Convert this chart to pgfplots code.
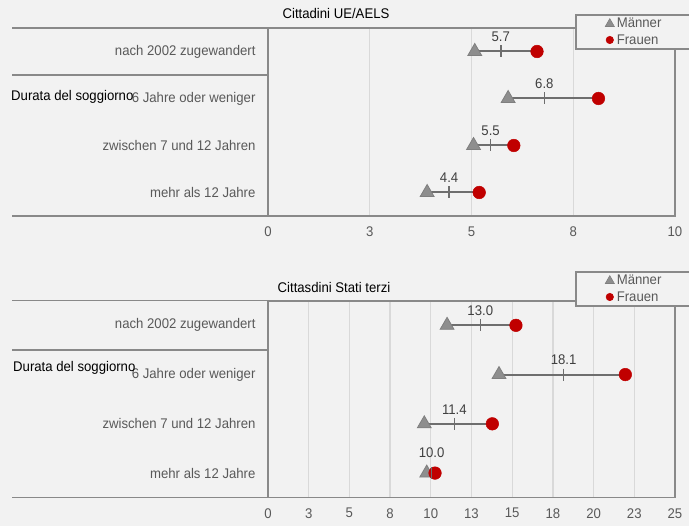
\documentclass[border=0pt]{standalone}
\usepackage{fontspec}
\setmainfont{Liberation Sans}[FakeStretch=0.94]
\usepackage{pgfplots}
\pgfplotsset{compat=1.18}
\definecolor{bg}{HTML}{F2F2F2}
\definecolor{framec}{HTML}{898989}
\definecolor{gridc}{HTML}{D9D9D9}
\definecolor{txt}{HTML}{595959}
\definecolor{lbl}{HTML}{404040}
\definecolor{trifill}{HTML}{8E8E8E}
\definecolor{tridraw}{HTML}{7F7F7F}
\definecolor{dred}{HTML}{C00000}
\definecolor{conn}{HTML}{6E6E6E}
\newcommand{\f}{\fontsize{14pt}{16pt}\selectfont}

\pgfplotsset{
 dumb/.style={
  scale only axis, width=407pt,
  ymin=0.5, ymax=4.5, y dir=reverse,
  ytick={1,2,3,4},
  yticklabels={nach 2002 zugewandert, 6 Jahre oder weniger, zwischen 7 und 12 Jahren, mehr als 12 Jahre},
  yticklabel style={font=\f, text=txt, xshift=-9pt},
  xticklabel style={font=\f, text=txt, yshift=-7pt},
  major tick length=0pt,
  xmajorgrids, grid style={gridc, line width=1.3pt},
  axis line style={framec, line width=1.6pt},
  axis background/.style={fill=bg},
  /pgf/number format/assume math mode=true,
  clip=false,
  legend style={anchor=north west, fill=bg, draw=framec, line width=1.6pt,
    font=\f, text=txt, inner xsep=28pt, inner ysep=1.5pt, row sep=1pt,
    /tikz/every even column/.append style={column sep=0pt}},
  legend cell align=left,
  legend image code/.code={\path[draw=none,fill=none] (-2pt,-4pt) rectangle (9pt,4pt); \draw[line width=0.6pt,#1] plot coordinates {(4pt,0pt)};},
 },
 conline/.style={conn, line width=2pt, forget plot},
 tri/.style={only marks, mark=triangle*, mark size=8pt, mark options={fill=trifill, draw=tridraw, line width=0.8pt}, forget plot},
 circ/.style={only marks, mark=*, mark size=6.3pt, mark options={fill=dred, draw=dred, line width=0.5pt}, forget plot},
 meanm/.style={only marks, mark=|, mark size=6pt, mark options={conn, line width=1.5pt}, forget plot,
   nodes near coords, point meta=explicit symbolic,
   nodes near coords style={anchor=south, yshift=8pt, inner sep=1pt, font=\f, text=lbl}},
}

\begin{document}
\begin{tikzpicture}
\fill[bg] (0pt,0pt) rectangle (689pt,-526pt);
\useasboundingbox (0pt,0pt) rectangle (689pt,-526pt);

% ---------- top panel ----------
\begin{axis}[dumb, name=top, at={(268pt,-28pt)}, anchor=north west, height=188pt,
  xmin=0, xmax=10, xtick={0,2.5,5,7.5,10}, xticklabels={0,3,5,8,10},
  legend style={at={(axis description cs:0.7543,1.0745)}}]
 \addplot[conline] coordinates {(5.08,1) (6.61,1)};
 \addplot[conline] coordinates {(5.90,2) (8.12,2)};
 \addplot[conline] coordinates {(5.05,3) (6.04,3)};
 \addplot[conline] coordinates {(3.91,4) (5.19,4)};
 \addplot[tri] table {
x y
5.08 1
5.90 2
5.05 3
3.91 4
};
 \addplot[circ] table {
x y
6.61 1
8.12 2
6.04 3
5.19 4
};
 \addplot[meanm] table[meta=lab] {
x y lab
5.72 1 5.7
6.79 2 6.8
5.47 3 5.5
4.45 4 4.4
};
 \addlegendimage{only marks, mark=triangle*, mark size=5.2pt, mark options={fill=trifill, draw=tridraw}}
 \addlegendentry{Männer}
 \addlegendimage{only marks, mark=*, mark size=3.7pt, mark options={fill=dred, draw=dred}}
 \addlegendentry{Frauen}
 \draw[framec, line width=1.6pt] (axis cs:0,1.5) -- ++(-256pt,0pt);
\end{axis}
\draw[framec, line width=1.6pt] (top.north west) -- ++(-256pt,0pt);
\draw[framec, line width=1.6pt] (top.south west) -- ++(-256pt,0pt);
\node[font=\f, text=black] at (336pt,-14pt) {Cittadini UE/AELS};
\node[font=\f, text=black, anchor=west, inner sep=0pt] at (11pt,-97pt) {Durata del soggiorno};

% ---------- bottom panel ----------
\begin{axis}[dumb, name=bot, at={(268pt,-300.7pt)}, anchor=north west, height=197pt,
  xmin=0, xmax=25, xtick={0,2.5,5,7.5,10,12.5,15,17.5,20,22.5,25},
  xticklabels={0,3,5,8,10,13,15,18,20,23,25},
  legend style={at={(axis description cs:0.7543,1.1508)}}]
 \addplot[conline] coordinates {(11.00,1) (15.23,1)};
 \addplot[conline] coordinates {(14.19,2) (21.95,2)};
 \addplot[conline] coordinates {(9.60,3) (13.78,3)};
 \addplot[conline] coordinates {(9.75,4) (10.26,4)};
 \addplot[tri] table {
x y
11.00 1
14.19 2
9.60 3
9.75 4
};
 \addplot[circ] table {
x y
15.23 1
21.95 2
13.78 3
10.26 4
};
 \addplot[meanm] table[meta=lab] {
x y lab
13.04 1 13.0
18.16 2 18.1
11.45 3 11.4
};
 \addplot[meanm, nodes near coords style={yshift=6pt}] table[meta=lab] {
x y lab
10.05 4 10.0
};
 \addlegendimage{only marks, mark=triangle*, mark size=5.2pt, mark options={fill=trifill, draw=tridraw}}
 \addlegendentry{Männer}
 \addlegendimage{only marks, mark=*, mark size=3.7pt, mark options={fill=dred, draw=dred}}
 \addlegendentry{Frauen}
 \draw[framec, line width=1.6pt] (axis cs:0,1.5) -- ++(-256pt,0pt);
\end{axis}
\draw[framec, line width=1.6pt] (bot.north west) -- ++(-256pt,0pt);
\draw[framec, line width=1.6pt] (bot.south west) -- ++(-256pt,0pt);
\node[font=\f, text=black] at (334pt,-287pt) {Cittasdini Stati terzi};
\node[font=\f, text=black, anchor=west, inner sep=0pt] at (13pt,-368pt) {Durata del soggiorno};
\end{tikzpicture}
\end{document}
